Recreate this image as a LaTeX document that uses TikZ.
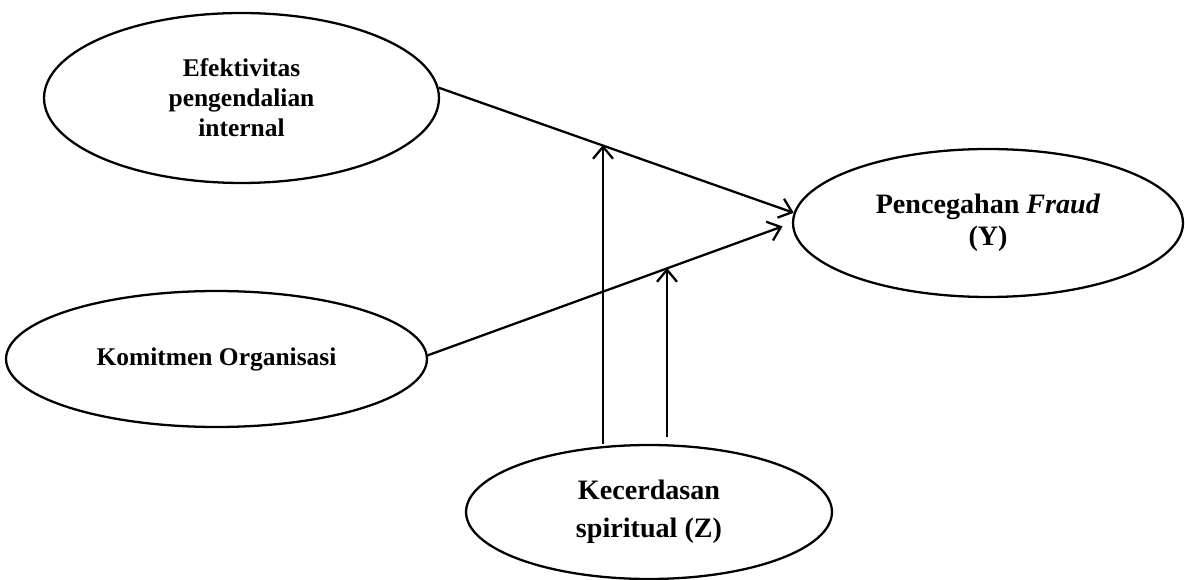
\documentclass[tikz,border=0pt]{standalone}
\usepackage{fontspec}
\setmainfont{Liberation Serif}
\usetikzlibrary{arrows.meta, shapes.geometric}

\begin{document}
\begin{tikzpicture}[
    x=0.02cm, y=-0.02cm,
    var/.style={draw, ellipse, line width=1.3pt, inner sep=0pt, align=center, font=\fontsize{14.5}{17}\selectfont\bfseries},
    bigvar/.style={var, font=\fontsize{16}{18.4}\selectfont\bfseries},
    flow/.style={-{Straight Barb[length=2.4mm, width=4mm]}, line width=1.3pt}
]
\useasboundingbox (0,0) rectangle (1185,580);
\node[var, minimum width=7.9cm, minimum height=3.4cm] (efektivitas) at (241.5,98) {Efektivitas\\pengendalian\\internal};
\node[var, minimum width=8.42cm, minimum height=2.72cm] (komitmen) at (216.5,359) {Komitmen Organisasi};
\node[bigvar, minimum width=7.8cm, minimum height=2.96cm] (pencegahan) at (988,223) {Pencegahan \textit{Fraud}\\(Y)};
\node[bigvar, minimum width=7.32cm, minimum height=2.68cm] (kecerdasan) at (649,512) {Kecerdasan\\[3pt]spiritual (Z)};
% points where the moderator arrows meet the paths
\coordinate (mod1) at (603,145);
\coordinate (mod2) at (667,268);
\coordinate (base2) at (667,437);
\draw[flow] (efektivitas.3) -- (pencegahan.177);
\draw[flow, shorten >=0.2cm] (komitmen.1) -- (pencegahan.180);
\draw[flow] (kecerdasan.north -| mod1) -- (mod1);
\draw[flow] (base2) -- (mod2);
\end{tikzpicture}
\end{document}
